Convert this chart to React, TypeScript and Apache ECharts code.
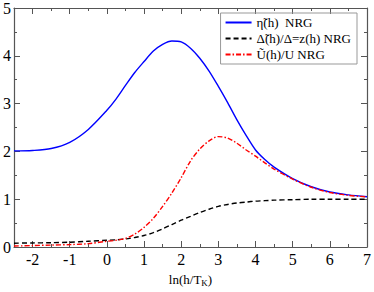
import React, { useEffect, useRef } from "react";
import * as echarts from "echarts";

const xs = [-2.5, -2, -1.5, -1, -0.5, 0, 0.25, 0.5, 0.75, 1, 1.25, 1.5, 1.75, 2, 2.25, 2.5, 2.75, 3, 3.25, 3.5, 3.75, 4, 4.25, 4.5, 5, 5.5, 6, 6.5, 7];
const etaVals = [2.01, 2.02, 2.06, 2.19, 2.46, 2.86, 3.1, 3.38, 3.65, 3.88, 4.1, 4.24, 4.31, 4.29, 4.16, 3.95, 3.68, 3.36, 3.02, 2.66, 2.33, 2.03, 1.83, 1.67, 1.43, 1.26, 1.15, 1.09, 1.05];
const deltaVals = [0.08, 0.085, 0.09, 0.1, 0.12, 0.14, 0.15, 0.17, 0.2, 0.24, 0.3, 0.38, 0.47, 0.56, 0.64, 0.72, 0.79, 0.85, 0.89, 0.92, 0.94, 0.96, 0.97, 0.98, 0.99, 1.0, 1.0, 1.0, 1.0];
const uVals = [0.02, 0.03, 0.04, 0.05, 0.07, 0.12, 0.14, 0.18, 0.27, 0.41, 0.6, 0.85, 1.13, 1.45, 1.8, 2.05, 2.22, 2.31, 2.28, 2.17, 2.03, 1.9, 1.76, 1.63, 1.42, 1.25, 1.14, 1.08, 1.05];
const xMajor = [-2, -1, 0, 1, 2, 3, 4, 5, 6, 7];
const seriesNames = ["η̃(h)  NRG", "Δ̃(h)/Δ=z(h) NRG", "Ũ(h)/U NRG"];

const FONT = "Times New Roman, Liberation Serif, serif";
const AX = "#555";

export default function App() {
  const ref = useRef<HTMLDivElement>(null);
  useEffect(() => {
    const chart = echarts.init(ref.current!, null, { renderer: "svg" });
    const pairs = (v: number[]) => xs.map((x, i) => [x, v[i]]);
    const baseX = {
      type: "value" as const,
      min: -2.5,
      max: 7,
      splitLine: { show: false },
    };
    const tickLabel = { fontFamily: FONT, fontSize: 16, color: "#000", fontWeight: "normal" as const };
    chart.setOption({
      animation: false,
      textStyle: { fontFamily: FONT },
      grid: { left: 13, right: 5, top: 5, bottom: 36 },
      legend: {
        orient: "vertical",
        right: 17,
        top: 13,
        itemWidth: 26,
        itemHeight: 12,
        itemGap: 3,
        padding: [3, 6, 3, 4],
        borderColor: "#999",
        borderWidth: 1,
        itemStyle: { color: "transparent", borderWidth: 0, opacity: 0 },
        textStyle: { fontFamily: FONT, fontSize: 13, color: "#000" },
        data: seriesNames,
      },
      xAxis: [
        {
          ...baseX,
          position: "bottom",
          axisLine: { show: true, onZero: false, lineStyle: { color: AX, width: 1.2 } },
          axisTick: { show: true, inside: true, length: 6, customValues: xMajor, lineStyle: { color: AX } },
          axisLabel: { show: true, customValues: xMajor, margin: 4, ...tickLabel },
          name: "ln(h/T{sub|K})",
          nameLocation: "middle",
          nameGap: 25,
          nameTextStyle: {
            fontFamily: FONT,
            fontSize: 13,
            color: "#000",
            rich: { sub: { fontFamily: FONT, fontSize: 9, verticalAlign: "bottom", padding: [6, 0, 0, 0] } },
          },
        },
        {
          ...baseX,
          position: "bottom",
          interval: 0.5,
          axisLine: { show: false, onZero: false },
          axisTick: { show: true, inside: true, length: 3, lineStyle: { color: AX } },
          axisLabel: { show: false },
        },
        {
          ...baseX,
          position: "top",
          axisLine: { show: true, onZero: false, lineStyle: { color: AX, width: 1.2 } },
          axisTick: { show: true, inside: true, length: 6, customValues: xMajor, lineStyle: { color: AX } },
          axisLabel: { show: false },
        },
        {
          ...baseX,
          position: "top",
          interval: 0.5,
          axisLine: { show: false, onZero: false },
          axisTick: { show: true, inside: true, length: 3, lineStyle: { color: AX } },
          axisLabel: { show: false },
        },
      ],
      yAxis: [
        {
          type: "value",
          min: 0,
          max: 5,
          interval: 1,
          position: "left",
          splitLine: { show: false },
          axisLine: { show: true, onZero: false, lineStyle: { color: AX, width: 1.2 } },
          axisTick: { show: true, inside: true, length: 6, lineStyle: { color: AX } },
          minorTick: { show: true, splitNumber: 2, length: 3, lineStyle: { color: AX } },
          axisLabel: { margin: 3, ...tickLabel },
        },
        {
          type: "value",
          min: 0,
          max: 5,
          interval: 1,
          position: "right",
          splitLine: { show: false },
          axisLine: { show: true, onZero: false, lineStyle: { color: AX, width: 1.2 } },
          axisTick: { show: true, inside: true, length: 6, lineStyle: { color: AX } },
          minorTick: { show: true, splitNumber: 2, length: 3, lineStyle: { color: AX } },
          axisLabel: { show: false },
        },
      ],
      series: [
        {
          name: seriesNames[0],
          type: "line",
          data: pairs(etaVals),
          smooth: 0.3,
          showSymbol: false,
          symbol: "none",
          color: "#0000ff",
          lineStyle: { color: "#0000ff", width: 1.4 },
        },
        {
          name: seriesNames[1],
          type: "line",
          data: pairs(deltaVals),
          smooth: 0.3,
          showSymbol: false,
          symbol: "none",
          color: "#000",
          lineStyle: { color: "#000", width: 1.4, type: [5, 3] },
        },
        {
          name: seriesNames[2],
          type: "line",
          data: pairs(uVals),
          smooth: 0.3,
          showSymbol: false,
          symbol: "none",
          color: "#ff0000",
          lineStyle: { color: "#ff0000", width: 1.4, type: [5, 2, 1.5, 2] },
        },
      ],
    });
    return () => chart.dispose();
  }, []);
  return <div ref={ref} style={{ width: 374, height: 292, position: "absolute", left: 0, top: 0 }} />;
}
